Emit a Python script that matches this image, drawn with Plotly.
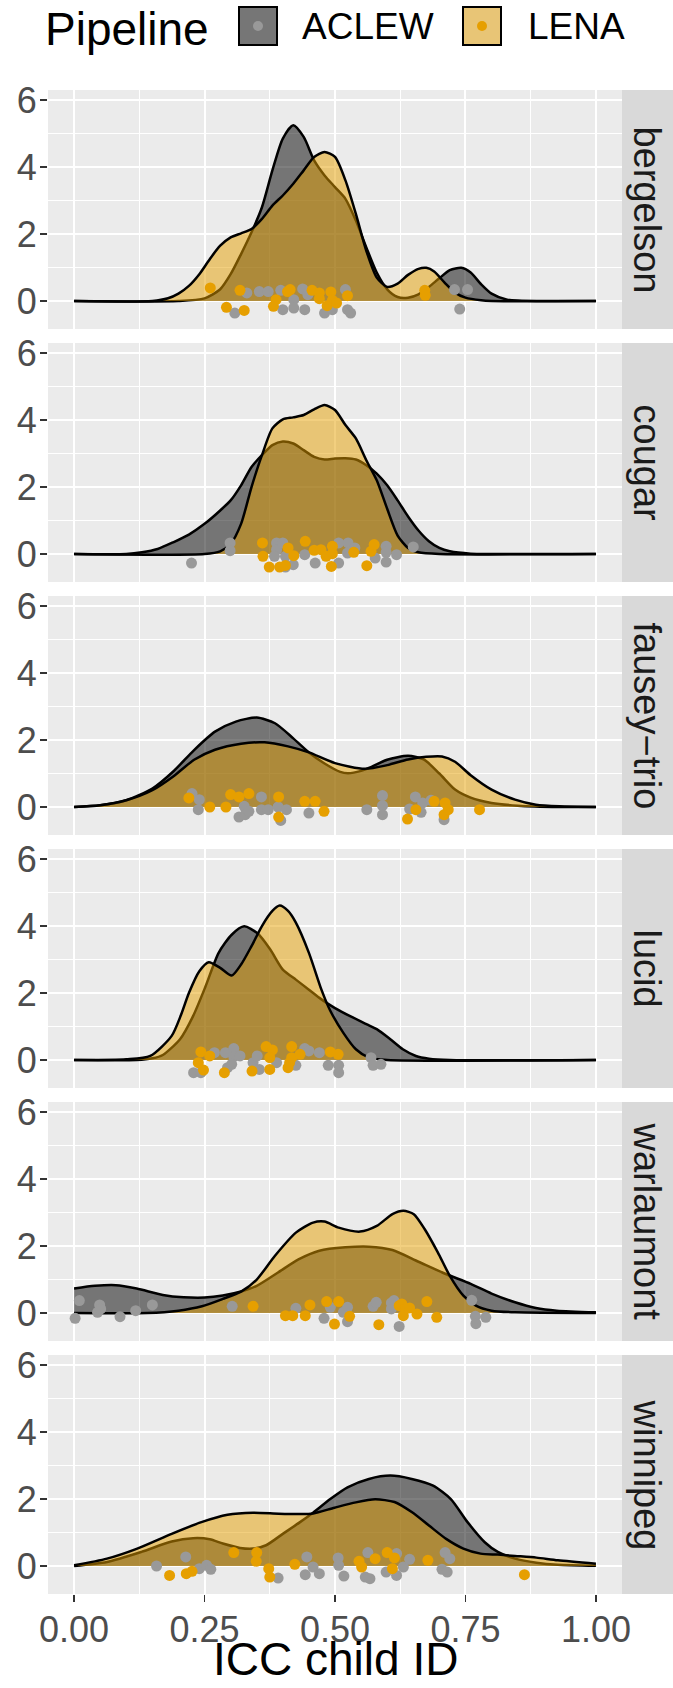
import plotly.graph_objects as go
from plotly.subplots import make_subplots

# ---------------- data ----------------
facets = ["bergelson", "cougar", "fausey\u2212trio", "lucid", "warlaumont", "winnipeg"]
pipelines = ["ACLEW", "LENA"]

# density curves
bergelson_aclew_dx = [0, 0.2, 0.25, 0.28, 0.30, 0.32, 0.34, 0.36, 0.38, 0.40, 0.42, 0.44, 0.46, 0.48, 0.50, 0.52, 0.54, 0.56, 0.58, 0.60, 0.62, 0.64, 0.66, 0.68, 0.70, 0.72, 0.742, 0.76, 0.78, 0.80, 0.83, 0.9, 1.0]
bergelson_aclew_dy = [0, 0, 0.08, 0.35, 0.8, 1.4, 2.05, 2.8, 3.9, 4.85, 5.25, 4.9, 4.2, 3.75, 3.4, 3.05, 2.4, 1.6, 0.85, 0.35, 0.12, 0.1, 0.2, 0.42, 0.68, 0.92, 0.99, 0.85, 0.5, 0.22, 0.04, 0, 0]
bergelson_lena_dx = [0, 0.15, 0.18, 0.20, 0.22, 0.24, 0.26, 0.28, 0.30, 0.32, 0.34, 0.36, 0.38, 0.40, 0.42, 0.44, 0.46, 0.48, 0.50, 0.52, 0.54, 0.56, 0.58, 0.60, 0.62, 0.64, 0.66, 0.675, 0.69, 0.71, 0.73, 0.75, 0.78, 0.8, 1.0]
bergelson_lena_dy = [0, 0, 0.08, 0.22, 0.45, 0.8, 1.25, 1.65, 1.9, 2.02, 2.15, 2.45, 2.85, 3.15, 3.5, 3.9, 4.3, 4.45, 4.3, 3.6, 2.6, 1.5, 0.7, 0.42, 0.52, 0.78, 0.96, 0.99, 0.88, 0.55, 0.25, 0.1, 0.02, 0, 0]

cougar_aclew_dx = [0, 0.10, 0.13, 0.16, 0.19, 0.22, 0.25, 0.28, 0.30, 0.32, 0.34, 0.36, 0.38, 0.40, 0.42, 0.44, 0.46, 0.48, 0.50, 0.52, 0.54, 0.56, 0.58, 0.60, 0.62, 0.64, 0.66, 0.68, 0.70, 0.72, 0.76, 0.8, 1.0]
cougar_aclew_dy = [0, 0, 0.05, 0.15, 0.35, 0.58, 0.9, 1.3, 1.6, 2.05, 2.6, 2.95, 3.25, 3.36, 3.3, 3.1, 2.9, 2.82, 2.85, 2.86, 2.82, 2.65, 2.4, 2.05, 1.6, 1.12, 0.7, 0.38, 0.18, 0.08, 0.01, 0, 0]
cougar_lena_dx = [0, 0.25, 0.28, 0.30, 0.32, 0.34, 0.36, 0.38, 0.40, 0.42, 0.44, 0.46, 0.48, 0.50, 0.52, 0.54, 0.56, 0.58, 0.60, 0.62, 0.64, 0.66, 0.70, 1.0]
cougar_lena_dy = [0, 0, 0.08, 0.3, 0.9, 2.0, 2.95, 3.75, 4.02, 4.08, 4.15, 4.32, 4.45, 4.3, 3.85, 3.45, 2.8, 2.2, 1.35, 0.55, 0.18, 0.05, 0, 0]

fausey_aclew_dx = [0, 0.05, 0.10, 0.15, 0.19, 0.23, 0.27, 0.31, 0.35, 0.385, 0.42, 0.45, 0.48, 0.51, 0.525, 0.55, 0.57, 0.60, 0.64, 0.67, 0.70, 0.73, 0.76, 0.80, 0.85, 0.93, 1.0]
fausey_aclew_dy = [0, 0.05, 0.2, 0.55, 1.06, 1.7, 2.25, 2.55, 2.67, 2.5, 2.05, 1.63, 1.3, 1.05, 1.01, 1.08, 1.2, 1.41, 1.53, 1.42, 1.0, 0.52, 0.28, 0.12, 0.04, 0, 0]
fausey_lena_dx = [0, 0.05, 0.10, 0.15, 0.19, 0.23, 0.27, 0.32, 0.365, 0.41, 0.45, 0.50, 0.557, 0.60, 0.64, 0.675, 0.705, 0.73, 0.76, 0.80, 0.845, 0.885, 0.93, 1.0]
fausey_lena_dy = [0, 0.05, 0.2, 0.5, 0.91, 1.41, 1.71, 1.89, 1.93, 1.81, 1.63, 1.31, 1.14, 1.25, 1.42, 1.5, 1.51, 1.35, 0.95, 0.52, 0.22, 0.07, 0.02, 0]

lucid_aclew_dx = [0, 0.12, 0.15, 0.17, 0.203, 0.228, 0.252, 0.277, 0.302, 0.326, 0.351, 0.376, 0.40, 0.425, 0.45, 0.474, 0.50, 0.53, 0.56, 0.58, 0.606, 0.63, 0.655, 0.68, 0.72, 1.0]
lucid_aclew_dy = [0, 0, 0.05, 0.15, 0.62, 1.31, 2.2, 3.2, 3.74, 3.99, 3.79, 3.3, 2.7, 2.4, 2.1, 1.81, 1.55, 1.3, 1.07, 0.92, 0.62, 0.32, 0.12, 0.04, 0, 0]
lucid_lena_dx = [0, 0.10, 0.146, 0.187, 0.205, 0.22, 0.24, 0.258, 0.28, 0.302, 0.32, 0.34, 0.36, 0.38, 0.394, 0.41, 0.425, 0.45, 0.474, 0.49, 0.516, 0.54, 0.565, 0.60, 1.0]
lucid_lena_dy = [0, 0.02, 0.12, 0.72, 1.35, 2.0, 2.65, 2.92, 2.75, 2.52, 2.85, 3.4, 4.0, 4.45, 4.61, 4.45, 4.1, 3.2, 2.1, 1.5, 0.81, 0.32, 0.07, 0, 0]

warlaumont_aclew_dx = [0, 0.04, 0.08, 0.12, 0.17, 0.21, 0.25, 0.285, 0.32, 0.35, 0.39, 0.43, 0.47, 0.52, 0.565, 0.61, 0.66, 0.71, 0.76, 0.80, 0.845, 0.885, 0.925, 1.0]
warlaumont_aclew_dy = [0.73, 0.81, 0.83, 0.73, 0.54, 0.47, 0.46, 0.52, 0.64, 0.81, 1.2, 1.6, 1.86, 1.96, 1.98, 1.88, 1.53, 1.18, 0.87, 0.58, 0.32, 0.15, 0.07, 0.02]
warlaumont_lena_dx = [0, 0.14, 0.2, 0.245, 0.285, 0.32, 0.35, 0.385, 0.425, 0.458, 0.48, 0.507, 0.548, 0.58, 0.61, 0.631, 0.651, 0.672, 0.697, 0.72, 0.746, 0.77, 0.80, 0.845, 1.0]
warlaumont_lena_dy = [0, 0, 0.07, 0.2, 0.42, 0.64, 1.0, 1.71, 2.4, 2.7, 2.73, 2.55, 2.43, 2.6, 2.95, 3.05, 2.95, 2.5, 1.81, 1.11, 0.52, 0.22, 0.07, 0.02, 0]

winnipeg_aclew_dx = [0, 0.063, 0.129, 0.187, 0.228, 0.26, 0.285, 0.318, 0.343, 0.368, 0.40, 0.433, 0.458, 0.491, 0.524, 0.565, 0.606, 0.647, 0.688, 0.722, 0.754, 0.787, 0.812, 0.845, 0.886, 0.927, 1.0]
winnipeg_aclew_dy = [0, 0.12, 0.42, 0.73, 0.83, 0.8, 0.67, 0.54, 0.52, 0.62, 0.96, 1.31, 1.59, 2.0, 2.35, 2.6, 2.7, 2.6, 2.4, 2.0, 1.31, 0.71, 0.42, 0.22, 0.1, 0.04, 0.01]
winnipeg_lena_dx = [0, 0.063, 0.121, 0.187, 0.244, 0.294, 0.343, 0.392, 0.433, 0.458, 0.499, 0.54, 0.577, 0.614, 0.647, 0.68, 0.713, 0.746, 0.779, 0.812, 0.845, 0.886, 0.927, 1.0]
winnipeg_lena_dy = [0.02, 0.22, 0.52, 0.96, 1.31, 1.53, 1.59, 1.56, 1.55, 1.57, 1.74, 1.9, 1.99, 1.91, 1.61, 1.21, 0.81, 0.52, 0.37, 0.34, 0.3, 0.25, 0.17, 0.07]

# jittered points (x = ICC, y = jitter)
bergelson_aclew_px = [.331, .308, .355, .372, .396, .40, .421, .421, .438, .442, .448, .48, .495, .52, .524, .53, .729, .754, .739]
bergelson_aclew_py = [.24, -.36, .28, .28, .32, -.26, .04, -.21, .36, -.26, .19, -.36, -.26, .34, -.26, -.36, .34, .34, -.24]
bergelson_lena_px = [.261, .318, .292, .326, .382, .387, .409, .414, .456, .47, .47, .485, .492, .495, .503, .524, .672, .673]
bergelson_lena_py = [.39, .32, -.19, -.28, -.16, .04, .28, .34, .32, .24, .07, -.14, .27, .02, -.06, .16, .32, .17]

cougar_aclew_px = [.225, .299, .299, .388, .388, .40, .405, .405, .42, .442, .462, .507, .507, .525, .524, .538, .577, .598, .598, .598, .618, .65, .384]
cougar_aclew_py = [-.27, .33, .10, .33, .13, .33, -.07, -.39, -.32, -.02, -.27, -.27, .33, .33, .03, .18, -.12, .23, .05, -.24, -.02, .21, -.07]
cougar_lena_px = [.361, .362, .374, .394, .405, .41, .421, .443, .46, .473, .483, .495, .495, .493, .536, .561, .569, .575]
cougar_lena_py = [.33, -.07, -.39, -.39, -.34, .18, -.05, .38, .11, .13, -.07, .23, .01, -.37, .05, -.35, .08, .28]

fausey_aclew_px = [.226, .24, .238, .316, .326, .328, .335, .359, .359, .372, .391, .396, .407, .45, .561, .591, .591, .591, .643, .654, .665, .668, .684, .709]
fausey_aclew_py = [.40, .22, -.08, -.30, .02, -.23, -.13, .30, -.08, -.08, 0, -.40, -.08, -.18, -.08, .34, .04, -.23, -.06, .30, -.16, .12, .20, -.38]
fausey_lena_px = [.22, .26, .291, .30, .316, .335, .392, .392, .442, .462, .479, .639, .655, .69, .711, .709, .717, .777]
fausey_lena_py = [.27, 0, 0, .37, .30, .40, .30, -.30, .17, .17, -.13, -.36, -.08, .17, .12, -.23, -.08, -.08]

lucid_aclew_px = [.229, .243, .269, .29, .294, .306, .306, .302, .318, .343, .351, .355, .388, .425, .442, .45, .47, .487, .507, .507, .569, .573, .588]
lucid_aclew_py = [-.38, -.38, .22, .22, -.23, .34, .10, -.13, .12, -.08, .12, -.28, -.08, -.16, .34, .27, .22, -.16, -.16, -.38, .07, -.16, -.13]
lucid_lena_px = [.243, .238, .248, .26, .288, .341, .368, .38, .375, .375, .413, .417, .417, .41, .433, .491, .506]
lucid_lena_py = [.24, -.08, -.30, .12, -.38, -.33, .40, .30, .07, -.28, -.08, .40, .07, -.23, .17, .24, .17]

warlaumont_aclew_px = [.002, .01, .045, .049, .051, .088, .118, .15, .303, .425, .479, .491, .516, .524, .524, .573, .579, .608, .613, .608, .623, .762, .769, .77, .789]
warlaumont_aclew_py = [-.16, .37, .02, .24, .12, -.11, .07, .24, .20, .14, -.16, .17, .02, .17, -.26, .20, .32, .30, .37, .12, -.40, .38, -.10, -.32, -.13]
warlaumont_lena_px = [.343, .405, .419, .443, .452, .484, .507, .499, .528, .584, .623, .628, .635, .631, .643, .657, .676, .695]
warlaumont_lena_py = [.20, -.08, -.08, -.08, .24, .34, .34, -.33, -.10, -.35, .22, .27, .12, -.08, .15, -.03, .34, -.13]

winnipeg_aclew_px = [.158, .214, .24, .254, .262, .391, .443, .446, .458, .47, .506, .507, .517, .558, .563, .567, .598, .618, .618, .631, .643, .705, .711, .715, .72]
winnipeg_aclew_py = [0, .27, -.08, .02, -.10, -.36, -.26, .27, -.03, -.23, .24, .02, -.30, -.33, .40, -.38, -.18, .37, -.28, -.03, .20, -.10, .40, -.18, .22]
winnipeg_lena_px = [.183, .215, .226, .306, .35, .349, .373, .375, .423, .546, .551, .577, .60, .614, .61, .678, .863]
winnipeg_lena_py = [-.28, -.23, -.16, .40, .40, .14, -.08, -.33, .05, .14, -.03, .22, .40, .24, -.08, .17, -.26]

x_ticks = [0, 0.25, 0.5, 0.75, 1.0]
x_ticktext = ["0.00", "0.25", "0.50", "0.75", "1.00"]
y_ticks = [0, 2, 4, 6]
y_ticktext = ["0", "2", "4", "6"]

densities = [
    (bergelson_aclew_dx, bergelson_aclew_dy, bergelson_lena_dx, bergelson_lena_dy),
    (cougar_aclew_dx, cougar_aclew_dy, cougar_lena_dx, cougar_lena_dy),
    (fausey_aclew_dx, fausey_aclew_dy, fausey_lena_dx, fausey_lena_dy),
    (lucid_aclew_dx, lucid_aclew_dy, lucid_lena_dx, lucid_lena_dy),
    (warlaumont_aclew_dx, warlaumont_aclew_dy, warlaumont_lena_dx, warlaumont_lena_dy),
    (winnipeg_aclew_dx, winnipeg_aclew_dy, winnipeg_lena_dx, winnipeg_lena_dy),
]
points = [
    (bergelson_aclew_px, bergelson_aclew_py, bergelson_lena_px, bergelson_lena_py),
    (cougar_aclew_px, cougar_aclew_py, cougar_lena_px, cougar_lena_py),
    (fausey_aclew_px, fausey_aclew_py, fausey_lena_px, fausey_lena_py),
    (lucid_aclew_px, lucid_aclew_py, lucid_lena_px, lucid_lena_py),
    (warlaumont_aclew_px, warlaumont_aclew_py, warlaumont_lena_px, warlaumont_lena_py),
    (winnipeg_aclew_px, winnipeg_aclew_py, winnipeg_lena_px, winnipeg_lena_py),
]

# ---------------- style ----------------
W, H = 673, 1688
ML, MR, MT, MB = 48, 51, 90, 94
PW, PH = W - ML - MR, H - MT - MB
FONT = "Liberation Sans, Arial, Helvetica, sans-serif"
FILL = {"ACLEW": "rgba(0,0,0,0.5)", "LENA": "rgba(230,159,0,0.5)"}
PT = {"ACLEW": "#999999", "LENA": "#E69F00"}
KEYFILL = {"ACLEW": "#767676", "LENA": "#E8C576"}
TICK_SIZE = 36


def px_x(x):
    return (x - ML) / PW


def px_y(y):
    return (MT + PH - y) / PH


gap = 14 / PH
fig = make_subplots(rows=6, cols=1, shared_xaxes=True, vertical_spacing=gap)

for i in range(6):
    r = i + 1
    ax, ay, lx, ly = densities[i]
    fig.add_trace(go.Scatter(x=ax, y=ay, mode="lines", fill="tozeroy",
                             fillcolor=FILL["ACLEW"],
                             line=dict(color="black", width=2.5, shape="spline", smoothing=0.7),
                             showlegend=False, hoverinfo="skip"), row=r, col=1)
    fig.add_trace(go.Scatter(x=lx, y=ly, mode="lines", fill="tozeroy",
                             fillcolor=FILL["LENA"],
                             line=dict(color="black", width=2.5, shape="spline", smoothing=0.7),
                             showlegend=False, hoverinfo="skip"), row=r, col=1)
    pax, pay, plx, ply = points[i]
    fig.add_trace(go.Scatter(x=pax, y=pay, mode="markers",
                             marker=dict(color=PT["ACLEW"], size=11, line=dict(width=0)),
                             showlegend=False), row=r, col=1)
    fig.add_trace(go.Scatter(x=plx, y=ply, mode="markers",
                             marker=dict(color=PT["LENA"], size=11, line=dict(width=0)),
                             showlegend=False), row=r, col=1)

for i in range(6):
    r = i + 1
    last = (r == 6)
    fig.update_xaxes(row=r, col=1, range=[-0.05, 1.05], tickvals=x_ticks, ticktext=x_ticktext,
                     showticklabels=last, ticks="outside" if last else "", ticklen=7,
                     tickcolor="#333333", tickwidth=1.5, ticklabelstandoff=-3,
                     tickfont=dict(size=TICK_SIZE, color="#4D4D4D", family=FONT),
                     showgrid=True, gridcolor="white", gridwidth=2, zeroline=False,
                     showline=False, automargin=False,
                     minor=dict(showgrid=True, gridcolor="white", gridwidth=1, tick0=0, dtick=0.125))
    fig.update_yaxes(row=r, col=1, range=[-0.836, 6.30], tickvals=y_ticks, ticktext=y_ticktext,
                     ticks="outside", ticklen=7, tickcolor="#333333", tickwidth=1.5,
                     ticklabelstandoff=-4, automargin=False,
                     tickfont=dict(size=TICK_SIZE, color="#4D4D4D", family=FONT),
                     showgrid=True, gridcolor="white", gridwidth=2, zeroline=False,
                     showline=False,
                     minor=dict(showgrid=True, gridcolor="white", gridwidth=1, tick0=0, dtick=1))

shapes = []
annotations = []
for i in range(6):
    dom = fig.layout["yaxis" if i == 0 else f"yaxis{i+1}"].domain
    shapes.append(dict(type="rect", xref="paper", yref="paper", x0=1.0, x1=(W - ML) / PW,
                       y0=dom[0], y1=dom[1], fillcolor="#D9D9D9", line=dict(width=0), layer="below"))
    annotations.append(dict(text=facets[i], xref="paper", yref="paper",
                            x=px_x(647), y=(dom[0] + dom[1]) / 2,
                            textangle=90, showarrow=False, xanchor="center", yanchor="middle",
                            font=dict(size=38, color="#1A1A1A", family=FONT)))

# x-axis title
annotations.append(dict(text="ICC child ID", xref="paper", yref="paper", x=0.5, y=px_y(1659),
                        showarrow=False, xanchor="center", yanchor="middle",
                        font=dict(size=46, color="black", family=FONT)))

# legend (ggplot style, drawn manually)
annotations.append(dict(text="Pipeline", xref="paper", yref="paper", x=px_x(43), y=px_y(29),
                        showarrow=False, xanchor="left", yanchor="middle",
                        font=dict(size=46, color="black", family=FONT)))
key_x = {"ACLEW": 258, "LENA": 482}
lab_x = {"ACLEW": 300, "LENA": 526}
kc_y = 26
for p in pipelines:
    cx = key_x[p]
    shapes.append(dict(type="rect", xref="paper", yref="paper",
                       x0=px_x(cx - 19), x1=px_x(cx + 19), y0=px_y(kc_y + 19), y1=px_y(kc_y - 19),
                       fillcolor=KEYFILL[p], line=dict(color="black", width=2)))
    shapes.append(dict(type="circle", xref="paper", yref="paper",
                       x0=px_x(cx - 5), x1=px_x(cx + 5), y0=px_y(kc_y + 5), y1=px_y(kc_y - 5),
                       fillcolor=PT[p], line=dict(width=0)))
    annotations.append(dict(text=p, xref="paper", yref="paper", x=px_x(lab_x[p]), y=px_y(kc_y + 1),
                            showarrow=False, xanchor="left", yanchor="middle",
                            font=dict(size=37, color="black", family=FONT)))

fig.update_layout(width=W, height=H, margin=dict(l=ML, r=MR, t=MT, b=MB, pad=0, autoexpand=False),
                  plot_bgcolor="#EBEBEB", paper_bgcolor="white",
                  font=dict(family=FONT), showlegend=False,
                  shapes=shapes, annotations=annotations)

fig.write_html("out.html", config={"displayModeBar": False, "staticPlot": True},
               post_script="document.body.style.margin='0px';document.body.style.overflow='hidden';")
